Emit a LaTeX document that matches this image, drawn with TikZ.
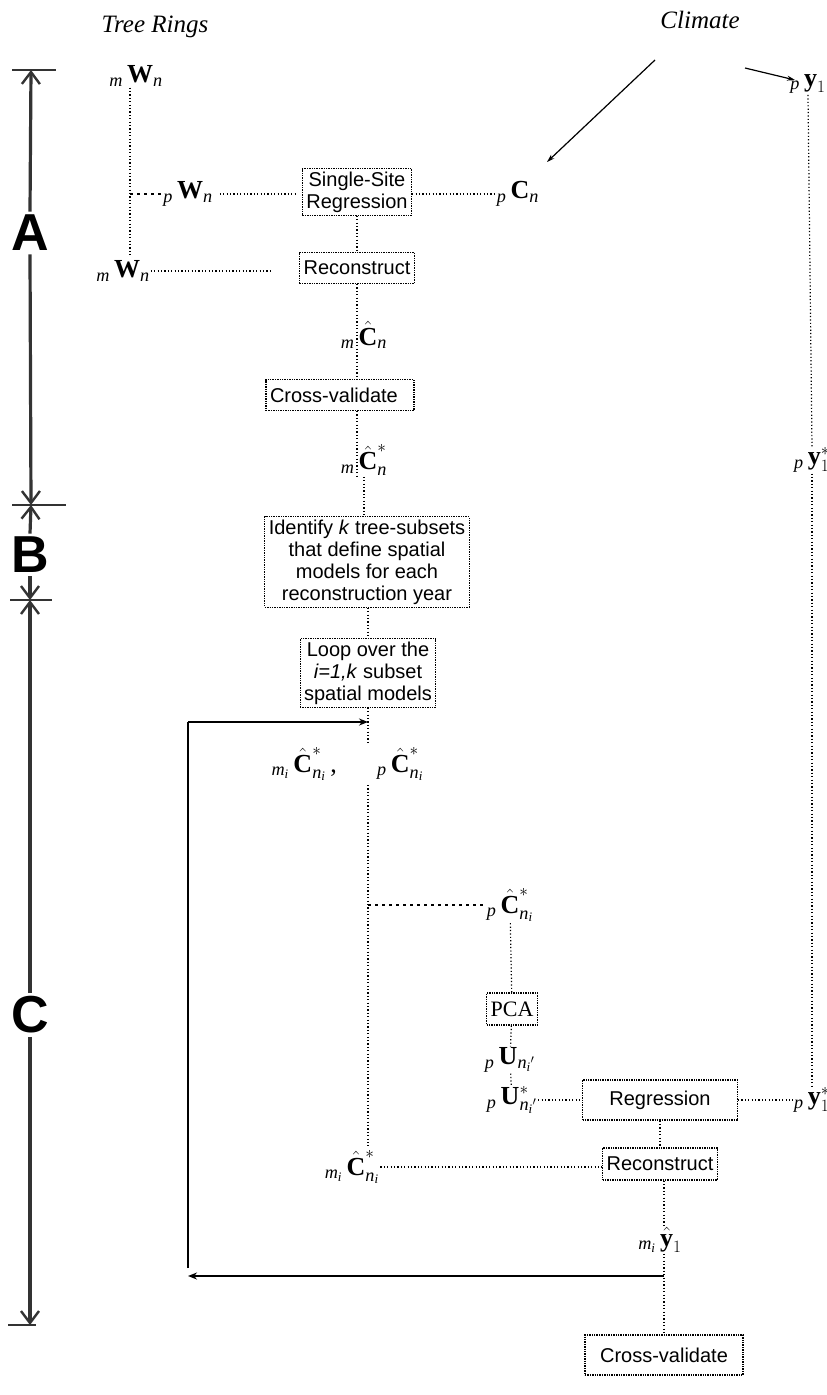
\documentclass[tikz,border=0pt]{standalone}
\usepackage{amsmath}
\usepackage{fontspec}
\setmainfont{Liberation Serif}
\newfontfamily\arialf{Liberation Sans}
\usetikzlibrary{arrows.meta}
\newcommand{\hC}{\hat{\textbf{C}}}
\newcommand{\ti}[1]{\textit{#1}}
\begin{document}
\begin{tikzpicture}[x=1pt,y=-1pt,
  lab/.style={inner sep=1pt,font=\fontsize{26}{28}\selectfont},
  boxn/.style={draw,dash pattern=on 1.4pt off 1pt,line width=1.1pt,inner sep=3pt,inner xsep=4pt,align=center,font=\arialf\fontsize{20}{22}\selectfont},
  conn/.style={dash pattern=on 1.2pt off 2.2pt,line width=1.2pt},
  dconn/.style={dash pattern=on 3pt off 4pt,line width=1.1pt},
  dimln/.style={line width=3.2pt,draw=black!80},
  dimtip/.style={-{Straight Barb[length=12pt,width=18pt,line width=2.4pt]}},
  tick/.style={line width=2.2pt,draw=black!80},
  bigl/.style={font=\arialf\bfseries\fontsize{52}{54}\selectfont},
  loopar/.style={line width=1.6pt,-{Stealth[length=9pt,width=7pt]}},
  clar/.style={line width=1.2pt,-{Stealth[length=8pt,width=5pt]}}]
\useasboundingbox (0,0) rectangle (827,1395);
% headers
\node[font=\itshape\fontsize{25}{27}\selectfont] (tr) at (155,27) {Tree Rings};
\node[font=\itshape\fontsize{25}{27}\selectfont] (cl) at (700,20) {Climate};
% dimension bar
\coordinate (t0a) at (12,70); \coordinate (t0b) at (56,70);
\coordinate (t1a) at (12,505); \coordinate (t1b) at (66,505);
\coordinate (t2a) at (10,600); \coordinate (t2b) at (52,600);
\coordinate (t3a) at (8,1325); \coordinate (t3b) at (36,1325);
\draw[tick] (t0a) -- (t0b);
\draw[tick] (t1a) -- (t1b);
\draw[tick] (t2a) -- (t2b);
\draw[tick] (t3a) -- (t3b);
\node[bigl] (A) at (30,233) {A};
\node[bigl] (B) at (30,555) {B};
\node[bigl] (C) at (30,1015) {C};
\coordinate (d0) at (31,70); \coordinate (d1) at (31,505);
\coordinate (d2) at (30,600); \coordinate (d3) at (30,1325);
\draw[dimln,dimtip] (A.north) -- (d0);
\draw[dimln,dimtip] (A.south) -- (d1);
\draw[dimln,dimtip] (B.north) -- (d1);
\draw[dimln,dimtip] (B.south) -- (d2);
\draw[dimln,dimtip] (C.north) -- (d2);
\draw[dimln,dimtip] (C.south) -- (d3);
% section A
\node[lab] (mW1) at (136,76) {${}_{\ti{m}}\,\textbf{W}_{\ti{n}}$};
\node[lab] (py1) at (808,84) {${}_{\ti{p}}\,\textbf{y}_{1}$};
\node[boxn] (ss) at (357,192) {Single-Site\\Regression};
\node[lab] (pW) at (188,194) {${}_{\ti{p}}\,\textbf{W}_{\ti{n}}$};
\node[lab] (pC) at (518,194) {${}_{\ti{p}}\,\textbf{C}_{\ti{n}}$};
\node[lab] (mW2) at (123,271) {${}_{\ti{m}}\,\textbf{W}_{\ti{n}}$};
\node[boxn,minimum height=31pt] (rec1) at (357,268) {Reconstruct};
\node[lab] (mCh) at (364,335) {${}_{\ti{m}}\,\hC_{\ti{n}}$};
\node[boxn,text width=140pt,align=left,minimum height=31pt] (cv1) at (340,395) {Cross-validate};
\node[lab] (mCs) at (364,460) {${}_{\ti{m}}\,\hC^{*}_{\ti{n}}$};
\node[lab] (pys1) at (812,460) {${}_{\ti{p}}\,\textbf{y}^{*}_{1}$};
\coordinate (br1) at (130,194);
\coordinate (br1e) at (130,256);
\draw[conn] (mW1.south -| br1) -- (br1e);
\draw[dconn] (br1) -- (pW);
\draw[conn,shorten <=6pt,shorten >=4pt] (pW) -- (ss.west |- pW);
\draw[conn] (ss.east |- pC) -- (pC);
\draw[conn] (ss) -- (rec1);
\draw[conn,shorten >=26pt] (mW2) -- (rec1.west |- mW2);
\draw[conn] (rec1) -- (cv1.north -| rec1);
\draw[conn] (cv1.south -| rec1) -- (mCs.south -| rec1);
\draw[conn] (py1.south) -- (pys1.north);
\coordinate (ca) at (655,60); \coordinate (cb) at (547,162);
\coordinate (cc) at (745,68); \coordinate (cd) at (795,80);
\draw[clar] (ca) -- (cb);
\draw[clar] (cc) -- (cd);
% section B
\node[boxn] (id) at (367,562) {Identify \textit{k} tree-subsets\\that define spatial\\models for each\\reconstruction year};
\node[boxn] (lp) at (368,673) {Loop over the\\\textit{i=1,k} subset\\spatial models};
\draw[conn] (mCs) -- (id.north -| mCs);
\draw[conn] (id.south -| lp) -- (lp);
% section C
\coordinate (la) at (368,722);
\coordinate (lc) at (188,722);
\coordinate (ld) at (188,1268);
\coordinate (lb) at (664,1276);
\coordinate (le) at (188,1276);
\node[lab,anchor=east] (miC) at (338,764) {${}_{\ti{m}_\ti{i}}\,\hC^{*}_{\ti{n}_\ti{i}}$\,,};
\node[lab,anchor=west] (pCi) at (376,764) {${}_{\ti{p}}\,\hC^{*}_{\ti{n}_\ti{i}}$};
\coordinate (col0) at (368,743);
\coordinate (col1) at (368,785);
\coordinate (br2) at (368,905);
\coordinate (col2) at (368,1146);
\draw[conn] (lp) -- (col0);
\draw[conn] (col1) -- (col2);
\draw[loopar] (lc) -- (la);
\draw[line width=1.6pt] (ld) -- (lc);
\node[lab] (pC2) at (510,905) {${}_{\ti{p}}\,\hC^{*}_{\ti{n}_\ti{i}}$};
\draw[dconn] (br2) -- (pC2);
\node[boxn,font=\fontsize{22}{24}\selectfont,minimum height=32pt] (pca) at (512,1009) {PCA};
\node[lab] (pU) at (510,1060) {${}_{\ti{p}}\,\textbf{U}_{\ti{n}_\ti{i}{}'}$};
\node[lab] (pUs) at (512,1100) {${}_{\ti{p}}\,\textbf{U}^{*}_{\ti{n}_\ti{i}{}'}$};
\node[boxn,minimum width=155pt,minimum height=40pt] (reg) at (660,1100) {Regression};
\node[lab] (pys2) at (812,1100) {${}_{\ti{p}}\,\textbf{y}^{*}_{1}$};
\node[boxn,minimum height=32pt] (rec2) at (660,1164) {Reconstruct};
\node[lab] (miC2) at (352,1167) {${}_{\ti{m}_\ti{i}}\,\hC^{*}_{\ti{n}_\ti{i}}$};
\node[lab] (miy) at (660,1240) {${}_{\ti{m}_\ti{i}}\,\hat{\textbf{y}}_{1}$};
\coordinate (ycol) at (664,1240);
\node[boxn,minimum width=158pt,minimum height=40pt] (cv2) at (664,1355) {Cross-validate};
\draw[conn] (pC2) -- (pca);
\draw[conn] (pca) -- (pU);
\draw[conn] (pU) -- (pUs);
\draw[conn] (pys1.south) -- (pys2.north);
\draw[conn] (pUs) -- (reg.west |- pUs);
\draw[conn] (reg.east |- pys2) -- (pys2);
\draw[conn] (reg) -- (rec2);
\draw[conn] (miC2) -- (rec2.west |- miC2);
\draw[conn] (rec2.south -| ycol) -- (miy.north -| ycol);
\draw[conn] (miy.south -| ycol) -- (cv2.north -| ycol);
\draw[loopar] (lb) -- (le);
\end{tikzpicture}
\end{document}
